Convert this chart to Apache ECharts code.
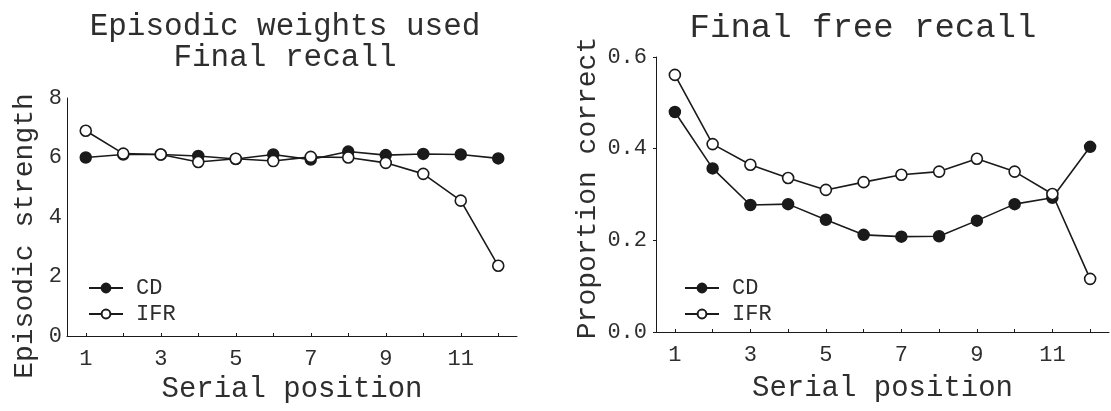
<!DOCTYPE html>
<html>
<head>
<meta charset="utf-8">
<script src="https://cdn.jsdelivr.net/npm/echarts@6/dist/echarts.min.js"></script>
<style>
  html, body { margin: 0; padding: 0; background: #fff; }
  #chart { width: 1111px; height: 411px; }
</style>
</head>
<body>
<div id="chart"></div>
<script>
// Serial positions 1..12
const positions = ['1', '2', '3', '4', '5', '6', '7', '8', '9', '10', '11', '12'];

// Episodic weights used at final recall
const weightsCD  = [6.0, 6.1, 6.1, 6.05, 5.95, 6.1, 5.93, 6.2, 6.08, 6.12, 6.1, 5.97];
const weightsIFR = [6.9, 6.13, 6.1, 5.85, 5.96, 5.88, 6.02, 6.0, 5.82, 5.45, 4.55, 2.36];

// Final free recall, proportion correct
const recallCD  = [0.48, 0.357, 0.277, 0.279, 0.245, 0.212, 0.208, 0.209, 0.243, 0.279, 0.293, 0.404];
const recallIFR = [0.561, 0.41, 0.365, 0.336, 0.31, 0.327, 0.343, 0.35, 0.378, 0.35, 0.301, 0.116];

const FONT = '"Liberation Mono", "DejaVu Sans Mono", monospace';
const INK = '#1a1a1a';
const TEXT = '#2e2e2e';

const chart = echarts.init(document.getElementById('chart'), null, { renderer: 'canvas' });

function xAxis(gridIndex, nameGap) {
  return {
    type: 'category',
    gridIndex,
    data: positions,
    boundaryGap: true,
    name: 'Serial position',
    nameLocation: 'middle',
    nameGap,
    nameTextStyle: { fontFamily: FONT, fontSize: 29, color: TEXT },
    axisLine: { lineStyle: { color: INK, width: 1 } },
    axisTick: { show: true, inside: true, length: 3, alignWithLabel: true, interval: 0, lineStyle: { color: INK } },
    axisLabel: { interval: 1, margin: 12, fontFamily: FONT, fontSize: 22, color: TEXT },
    splitLine: { show: false }
  };
}

const lineStyle = { color: INK, width: 1.6 };
const filled = { color: INK, borderColor: INK, borderWidth: 1.5 };
const open = { color: '#fff', borderColor: INK, borderWidth: 1.6 };

function series(name, data, xi, yi, isOpen) {
  return {
    name, type: 'line', xAxisIndex: xi, yAxisIndex: yi, data,
    symbol: 'circle', symbolSize: 11, showAllSymbol: true,
    lineStyle, itemStyle: isOpen ? open : filled,
    emphasis: { disabled: true }, animation: false,
    z: isOpen ? 3 : 2
  };
}

function legend(left, top) {
  return {
    orient: 'vertical', left, top,
    data: ['CD', 'IFR'],
    itemWidth: 34, itemHeight: 11, itemGap: 4,
    textStyle: { fontFamily: FONT, fontSize: 22, color: TEXT, padding: [0, 0, 0, 8] },
    selectedMode: false
  };
}

chart.setOption({
  backgroundColor: '#fff',
  animation: false,
  title: [
    {
      text: 'Episodic weights used\nFinal recall',
      left: 280, top: 6, textAlign: 'center',
      textStyle: { fontFamily: FONT, fontSize: 31, fontWeight: 'normal', color: TEXT, lineHeight: 31 }
    },
    {
      text: 'Final free recall',
      left: 858, top: 6, textAlign: 'center',
      textStyle: { fontFamily: FONT, fontSize: 34, fontWeight: 'normal', color: TEXT, lineHeight: 34 }
    }
  ],
  grid: [
    { left: 67, right: 594, top: 98, bottom: 75 },
    { left: 656, right: 2, top: 57, bottom: 79 }
  ],
  xAxis: [xAxis(0, 38), xAxis(1, 42)],
  yAxis: [
    {
      type: 'value', gridIndex: 0, min: 0, max: 8, interval: 2,
      axisLine: { show: true, lineStyle: { color: INK, width: 1 } },
      axisTick: { show: false },
      axisLabel: { margin: 5, fontFamily: FONT, fontSize: 22, color: TEXT },
      splitLine: { show: false }
    },
    {
      type: 'value', gridIndex: 1, min: 0, max: 0.6, interval: 0.2,
      axisLine: { show: true, lineStyle: { color: INK, width: 1 } },
      axisTick: { show: true, length: 3, lineStyle: { color: INK } },
      axisLabel: { margin: 9, fontFamily: FONT, fontSize: 22, color: TEXT, formatter: v => v.toFixed(1) },
      splitLine: { show: false }
    }
  ],
  legend: [legend(83, 272), legend(679, 272)],
  graphic: [
    {
      type: 'text', x: 25, y: 236, rotation: Math.PI / 2,
      style: { text: 'Episodic strength', font: '28px ' + FONT, fill: TEXT, align: 'center', verticalAlign: 'middle' }
    },
    {
      type: 'text', x: 588, y: 188, rotation: Math.PI / 2,
      style: { text: 'Proportion correct', font: '28px ' + FONT, fill: TEXT, align: 'center', verticalAlign: 'middle' }
    }
  ],
  series: [
    series('CD', weightsCD, 0, 0, false),
    series('IFR', weightsIFR, 0, 0, true),
    series('CD', recallCD, 1, 1, false),
    series('IFR', recallIFR, 1, 1, true)
  ]
});
</script>
</body>
</html>
